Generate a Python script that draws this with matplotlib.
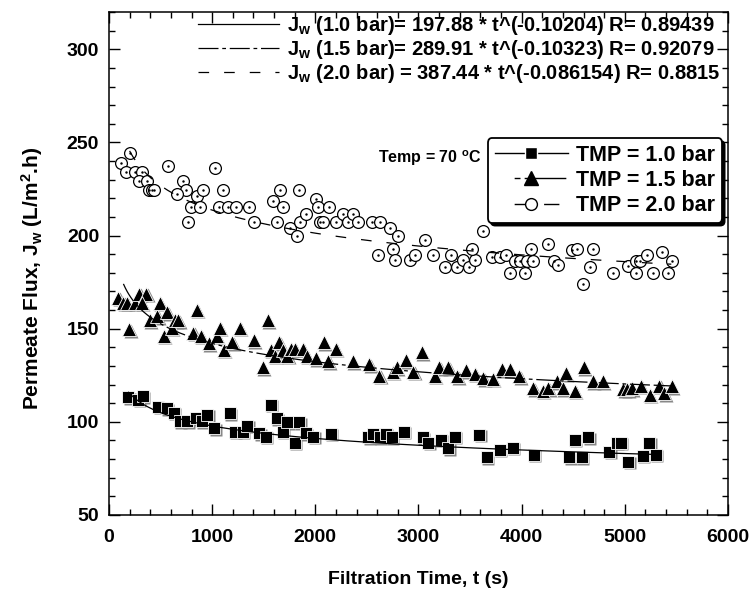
import numpy as np
import matplotlib
matplotlib.use("Agg")
import matplotlib.pyplot as plt
import matplotlib.transforms as mtransforms
from matplotlib.lines import Line2D
from matplotlib.ticker import MultipleLocator

plt.rcParams['font.family'] = ['Liberation Sans', 'DejaVu Sans']
plt.rcParams['font.weight'] = 'bold'
plt.rcParams['mathtext.fontset'] = 'custom'
plt.rcParams['mathtext.rm'] = 'Liberation Sans:bold'
plt.rcParams['mathtext.bf'] = 'Liberation Sans:bold'
plt.rcParams['mathtext.default'] = 'bf'

# TMP = 1.0 bar (squares)
t_10 = [187, 284, 327, 478, 559, 630, 688, 759, 843, 898, 953, 1020, 1172, 1221,
        1296, 1340, 1456, 1521, 1570, 1625, 1683, 1728, 1802, 1844, 1909, 1980,
        2148, 2513, 2555, 2626, 2684, 2739, 2859, 3040, 3094, 3214, 3288, 3353,
        3588, 3660, 3789, 3912, 4118, 4460, 4516, 4581, 4645, 4848, 4920, 4961,
        5032, 5172, 5236, 5301]
j_10 = [113.3, 111.8, 113.6, 108.2, 107.4, 105.0, 100.2, 100.2, 102.0, 100.2,
        103.8, 96.6, 104.7, 94.8, 94.8, 97.8, 93.9, 92.1, 109.1, 102.0, 94.8,
        99.8, 88.9, 99.8, 93.9, 92.1, 93.5, 91.8, 93.5, 91.8, 93.5, 91.8, 94.8,
        91.8, 88.9, 90.3, 85.9, 92.1, 93.0, 81.0, 84.9, 86.2, 82.3, 81.0, 90.3,
        81.0, 91.8, 84.0, 88.9, 88.9, 78.7, 81.7, 88.9, 82.3]

# TMP = 1.5 bar (triangles)
t_15 = [90, 139, 172, 197, 252, 294, 359, 317, 397, 468, 494, 533, 565, 608,
        640, 672, 850, 817, 891, 969, 1044, 1076, 1114, 1195, 1269, 1405, 1489,
        1538, 1567, 1609, 1650, 1683, 1728, 1761, 1802, 1877, 1916, 2006, 2083,
        2125, 2200, 2361, 2522, 2619, 2749, 2788, 2878, 2949, 3030, 3159, 3201,
        3288, 3375, 3459, 3547, 3627, 3718, 3805, 3886, 3976, 4112, 4203, 4257,
        4338, 4396, 4428, 4516, 4603, 4687, 4784, 4984, 5022, 5065, 5152, 5242,
        5333, 5381, 5453]
j_15 = [166.5, 163.8, 163.8, 149.8, 163.8, 168.8, 168.8, 163.8, 154.5, 156.6,
        163.8, 146.2, 158.8, 150.4, 154.5, 154.5, 160.2, 147.7, 146.2, 142.3,
        146.2, 150.4, 138.7, 142.6, 150.4, 143.7, 129.4, 154.5, 138.7, 135.5,
        142.6, 138.3, 135.5, 139.1, 139.1, 139.1, 135.5, 134.2, 142.6, 132.4,
        139.1, 132.4, 131.0, 124.7, 127.0, 129.4, 133.0, 127.0, 137.3, 124.7,
        129.4, 129.4, 124.4, 127.6, 125.8, 123.5, 123.0, 128.3, 128.3, 124.4,
        118.1, 116.8, 118.1, 121.7, 118.1, 126.2, 116.8, 129.4, 121.7, 121.7,
        117.6, 117.6, 118.1, 119.4, 114.5, 119.4, 115.4, 119.0]

# TMP = 2.0 bar (circles)
t_20 = [203, 113, 165, 249, 320, 294, 371, 391, 414, 436, 575, 720, 746, 662,
        856, 914, 1027, 1108, 792, 882, 768, 1069, 1156, 1231, 1360, 1405, 1592,
        1657, 1683, 1631, 1838, 1754, 1819, 1851, 1909, 2006, 2028, 2135, 2045,
        2077, 2200, 2270, 2319, 2367, 2416, 2546, 2626, 2723, 2797, 2749, 2610,
        2771, 2917, 2965, 3062, 3143, 3311, 3256, 3369, 3433, 3491, 3547, 3515,
        3621, 3708, 3789, 3847, 3886, 3934, 3983, 4048, 4112, 4031, 4086, 4257,
        4312, 4354, 4484, 4538, 4693, 4661, 4596, 4887, 5032, 5107, 5145, 5107,
        5216, 5274, 5359, 5453, 5414]
j_20 = [244.5, 238.7, 234.0, 234.0, 234.0, 229.2, 229.2, 224.3, 224.3, 224.3,
        237.6, 229.2, 224.3, 222.2, 221.1, 224.3, 236.0, 224.3, 215.4, 215.4,
        207.1, 215.4, 215.4, 215.4, 215.4, 207.4, 218.6, 224.3, 215.4, 207.4,
        224.3, 203.8, 199.6, 207.4, 211.7, 219.7, 215.4, 215.4, 207.4, 207.4,
        207.4, 211.7, 207.4, 211.7, 207.4, 207.4, 207.4, 203.8, 199.6, 193.0,
        189.4, 187.1, 187.1, 189.4, 197.8, 189.8, 189.8, 183.2, 183.2, 186.7,
        183.2, 186.7, 193.0, 202.3, 188.5, 188.5, 189.8, 179.9, 186.4, 186.4,
        186.4, 186.4, 179.9, 193.0, 195.7, 186.4, 184.4, 192.1, 193.0, 193.0,
        183.2, 174.2, 179.9, 183.9, 186.4, 186.4, 179.9, 189.8, 179.9, 191.0,
        186.4, 179.9]

# power-law fits shown in the chart: J = a * t^b
fit_a = [197.88, 289.91, 387.44]
fit_b = [-0.10204, -0.10323, -0.086154]
fit_range = [(190, 5300), (140, 5450), (200, 5450)]
fit_labels = [
    r"J$_w$ (1.0 bar)= 197.88 * t^(-0.10204) R= 0.89439",
    r"J$_w$ (1.5 bar)= 289.91 * t^(-0.10323) R= 0.92079",
    r"J$_w$ (2.0 bar) = 387.44 * t^(-0.086154) R= 0.8815",
]
fit_dashes = [None, (16, 3, 3, 3), (8.5, 12)]

fig = plt.figure(figsize=(7.51, 5.95), dpi=100)
ax = fig.add_axes([0.1451, 0.1345, 0.8243, 0.8453])

shadow = mtransforms.offset_copy(ax.transData, fig=fig, x=1.5, y=-1.5, units='dots')

# shadows under filled markers
ax.plot(t_10, j_10, 's', ms=9, color='#888888', mec='none', transform=shadow, zorder=2)
ax.plot(t_15, j_15, '^', ms=10, color='#888888', mec='none', transform=shadow, zorder=2)

ax.plot(t_10, j_10, 's', ms=9, mfc='black', mec='white', mew=0.6, ls='none', zorder=3)
ax.plot(t_15, j_15, '^', ms=10, mfc='black', mec='white', mew=0.6, ls='none', zorder=3)
ax.plot(t_20, j_20, 'o', ms=8.5, mfc='white', mec='black', mew=0.9, ls='none', zorder=3)
ax.plot(t_20, j_20, '.', ms=1.5, color='black', ls='none', zorder=4)

fit_handles = []
for a, b, (t0, t1), d in zip(fit_a, fit_b, fit_range, fit_dashes):
    tt = np.linspace(t0, t1, 300)
    line, = ax.plot(tt, a * tt ** b, color='black', lw=0.9, zorder=4)
    if d is not None:
        line.set_dashes(d)
    fit_handles.append(line)

ax.set_xlim(0, 6000)
ax.set_ylim(50, 320)
ax.xaxis.set_major_locator(MultipleLocator(1000))
ax.xaxis.set_minor_locator(MultipleLocator(200))
ax.yaxis.set_major_locator(MultipleLocator(50))
ax.yaxis.set_minor_locator(MultipleLocator(10))
ax.tick_params(which='both', direction='in', top=True, right=True, width=1)
ax.tick_params(which='major', length=8, labelsize=14, pad=7)
ax.tick_params(axis='x', which='major', pad=10)
ax.tick_params(which='minor', length=4)
for lab in ax.get_xticklabels() + ax.get_yticklabels():
    lab.set_fontweight('bold')
for s in ax.spines.values():
    s.set_linewidth(1.1)

ax.set_xlabel("Filtration Time, t (s)", fontsize=14, fontweight='bold')
ax.set_ylabel(r"Permeate Flux, J$_w$ (L/m$^2$.h)", fontsize=15, fontweight='bold')
ax.xaxis.set_label_coords(0.499, -0.111)
ax.yaxis.set_label_coords(-0.104, 0.47)

leg1 = ax.legend(fit_handles, fit_labels, loc='upper right', frameon=False,
                 handlelength=4.0, fontsize=14.5, labelspacing=0.05,
                 bbox_to_anchor=(0.99, 1.0), borderaxespad=0.0, borderpad=0.1,
                 handletextpad=0.4)
ax.add_artist(leg1)

tmp_handles = [
    Line2D([], [], color='black', lw=1, marker='s', ms=9, mfc='black', mec='white'),
    Line2D([], [], color='black', lw=1, marker='^', ms=10, mfc='black',
           ls=(39.2, (4.2, 3, 30, 15.8))),
    Line2D([], [], color='black', lw=1, marker='o', ms=8.5, mfc='white', mec='black',
           ls=(39.2, (14.2, 7, 11, 20.8))),
]
tmp_labels = ["TMP = 1.0 bar", "TMP = 1.5 bar", "TMP = 2.0 bar"]
leg2 = ax.legend(tmp_handles, tmp_labels, loc='upper right', fontsize=15.5,
                 bbox_to_anchor=(0.99, 0.749), borderaxespad=0, fancybox=True,
                 handlelength=3.4, labelspacing=0.2, borderpad=0.3,
                 handletextpad=0.4, shadow={'color': 'black', 'alpha': 1.0})
leg2.get_frame().set_edgecolor('black')
leg2.get_frame().set_linewidth(1.3)
leg2.get_frame().set_alpha(1)

ax.text(0.434, 0.71, r"Temp = 70 $^o$C", transform=ax.transAxes, fontsize=11.5,
        fontweight='bold', ha='left', va='center')

fig.savefig("out.png", dpi=100)
